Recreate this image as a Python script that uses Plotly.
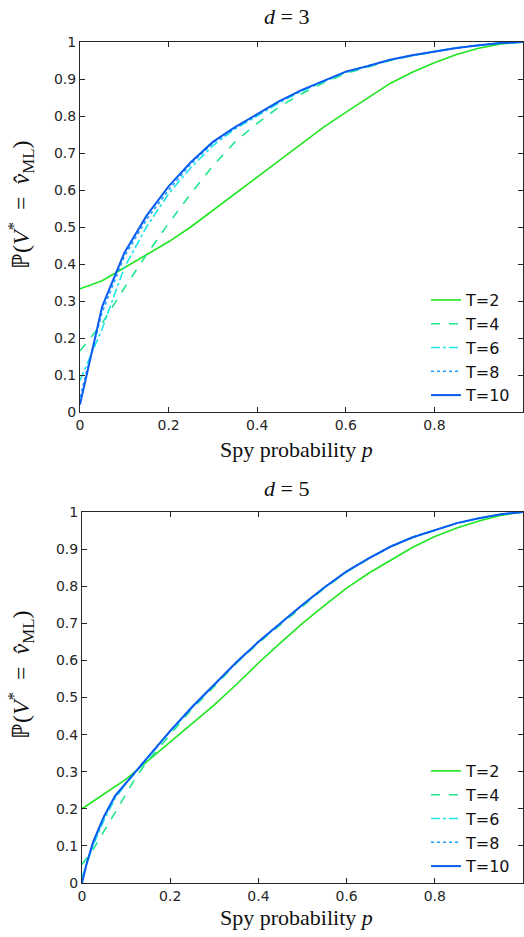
import plotly.graph_objects as go

# ---------------- data ----------------
p_top = [0, 0.05, 0.1, 0.15, 0.2, 0.25, 0.3, 0.35, 0.4, 0.45, 0.5,
         0.55, 0.6, 0.65, 0.7, 0.75, 0.8, 0.85, 0.9, 0.95, 1.0]
d3_T2 = [0.333, 0.355, 0.39, 0.425, 0.46, 0.50, 0.545, 0.59, 0.635, 0.68, 0.726,
         0.77, 0.81, 0.85, 0.888, 0.918, 0.944, 0.966, 0.983, 0.995, 1.0]
d3_T4 = [0.165, 0.24, 0.335, 0.425, 0.51, 0.59, 0.665, 0.73, 0.78, 0.825, 0.86,
         0.89, 0.915, 0.933, 0.95, 0.963, 0.974, 0.984, 0.991, 0.997, 1.0]
d3_T6 = [0.085, 0.225, 0.39, 0.50, 0.59, 0.66, 0.72, 0.765, 0.80, 0.836, 0.867,
         0.893, 0.918, 0.934, 0.951, 0.963, 0.975, 0.984, 0.991, 0.997, 1.0]
d3_T8 = [0.04, 0.27, 0.42, 0.52, 0.60, 0.67, 0.727, 0.768, 0.803, 0.839, 0.869,
         0.894, 0.919, 0.935, 0.952, 0.964, 0.975, 0.984, 0.991, 0.997, 1.0]
d3_T10 = [0.02, 0.285, 0.43, 0.53, 0.61, 0.675, 0.73, 0.77, 0.805, 0.84, 0.87,
          0.895, 0.92, 0.935, 0.952, 0.964, 0.975, 0.984, 0.991, 0.997, 1.0]

p_bot = [0, 0.01, 0.025, 0.05, 0.075, 0.1, 0.125, 0.15, 0.2, 0.25, 0.3, 0.35, 0.4,
         0.45, 0.5, 0.55, 0.6, 0.65, 0.7, 0.75, 0.8, 0.85, 0.9, 0.95, 1.0]
d5_T2 = [0.2, 0.208, 0.22, 0.24, 0.26, 0.28, 0.305, 0.33, 0.378, 0.43, 0.48, 0.535, 0.593,
         0.647, 0.70, 0.748, 0.795, 0.835, 0.87, 0.905, 0.934, 0.957, 0.976, 0.991, 1.0]
d5_T4 = [0.05, 0.066, 0.09, 0.14, 0.19, 0.24, 0.29, 0.33, 0.40, 0.47, 0.53, 0.592, 0.647,
         0.697, 0.747, 0.795, 0.838, 0.874, 0.906, 0.931, 0.951, 0.969, 0.983, 0.994, 1.0]
d5_T6 = [0.015, 0.05, 0.10, 0.17, 0.228, 0.268, 0.303, 0.338, 0.408, 0.473, 0.533, 0.594, 0.649,
         0.699, 0.749, 0.796, 0.839, 0.875, 0.907, 0.932, 0.952, 0.97, 0.983, 0.994, 1.0]
d5_T8 = [0.005, 0.05, 0.105, 0.178, 0.233, 0.27, 0.305, 0.34, 0.41, 0.475, 0.535, 0.595, 0.65,
         0.70, 0.75, 0.797, 0.84, 0.875, 0.907, 0.932, 0.952, 0.97, 0.983, 0.994, 1.0]
d5_T10 = [0.0, 0.05, 0.11, 0.18, 0.235, 0.27, 0.305, 0.34, 0.41, 0.475, 0.535, 0.595, 0.65,
          0.70, 0.75, 0.797, 0.84, 0.875, 0.907, 0.932, 0.952, 0.97, 0.983, 0.994, 1.0]

series_names = ["T=2", "T=4", "T=6", "T=8", "T=10"]
colors = ["#1ee61e", "#1ee68c", "#1ee6e6", "#1a9cff", "#0a5cf0"]
dashes = ["solid", "dash", "dashdot", "dot", "solid"]
widths = [1.6, 1.6, 1.6, 1.6, 2.0]

x_ticks = [0, 0.2, 0.4, 0.6, 0.8]
x_ticktext = ["0", "0.2", "0.4", "0.6", "0.8"]
y_ticks = [0, 0.1, 0.2, 0.3, 0.4, 0.5, 0.6, 0.7, 0.8, 0.9, 1.0]
y_ticktext = ["0", "0.1", "0.2", "0.3", "0.4", "0.5", "0.6", "0.7", "0.8", "0.9", "1"]

# ---------------- figure ----------------
W, H = 524, 937
fig = go.Figure()

top_sets = [d3_T2, d3_T4, d3_T6, d3_T8, d3_T10]
bot_sets = [d5_T2, d5_T4, d5_T6, d5_T8, d5_T10]

for name, ys, c, d, w in zip(series_names, top_sets, colors, dashes, widths):
    fig.add_trace(go.Scatter(x=p_top, y=ys, mode="lines", name=name,
                             line=dict(color=c, dash=d, width=w),
                             xaxis="x", yaxis="y", legend="legend"))
for name, ys, c, d, w in zip(series_names, bot_sets, colors, dashes, widths):
    fig.add_trace(go.Scatter(x=p_bot, y=ys, mode="lines", name=name,
                             line=dict(color=c, dash=d, width=w),
                             xaxis="x2", yaxis="y2", legend="legend2"))

axcol = "#262626"
tickfont = dict(family="DejaVu Sans, sans-serif", size=14, color=axcol)
common_x = dict(range=[0, 1], tickvals=x_ticks, ticktext=x_ticktext, ticks="inside",
                ticklen=5, tickcolor=axcol, showline=True, linecolor=axcol, linewidth=1,
                mirror="ticks", showgrid=False, zeroline=False, tickfont=tickfont,
                automargin=False)
common_y = dict(range=[0, 1], tickvals=y_ticks, ticktext=y_ticktext, ticks="inside",
                ticklen=5, tickcolor=axcol, showline=True, linecolor=axcol, linewidth=1,
                mirror="ticks", showgrid=False, zeroline=False, tickfont=tickfont,
                automargin=False)

def py(pix):
    return (H - pix) / H

def px(pix):
    return pix / W

legfont = dict(family="DejaVu Sans, sans-serif", size=16, color="#111")
fig.update_layout(
    width=W, height=H,
    margin=dict(l=0, r=0, t=0, b=0, autoexpand=False),
    paper_bgcolor="white", plot_bgcolor="white",
    xaxis=dict(domain=[px(80), px(523)], anchor="y", **common_x),
    yaxis=dict(domain=[py(412), py(42)], anchor="x", **common_y),
    xaxis2=dict(domain=[px(82), px(523)], anchor="y2", **common_x),
    yaxis2=dict(domain=[py(883), py(512)], anchor="x2", **common_y),
    legend=dict(x=px(426), y=py(283), xanchor="left", yanchor="top",
                bgcolor="rgba(255,255,255,0)", borderwidth=0, font=legfont,
                tracegroupgap=0, itemwidth=30),
    legend2=dict(x=px(426), y=py(754), xanchor="left", yanchor="top",
                 bgcolor="rgba(255,255,255,0)", borderwidth=0, font=legfont,
                 tracegroupgap=0, itemwidth=30),
    showlegend=True,
)

serif = dict(family="Liberation Serif, Times New Roman, serif", size=22, color="#111")
ylabfont = dict(family="Liberation Serif, Times New Roman, serif", size=24, color="#111")
ylab = "ℙ(<i>V</i><sup>*</sup>&nbsp;&nbsp;=&nbsp;&nbsp;<i>v̂</i><sub>ML</sub>)"
annotations = [
    dict(text="<i>d</i> = 3", x=px(286), y=py(16), xref="paper", yref="paper",
         showarrow=False, font=serif, xanchor="center", yanchor="middle"),
    dict(text="<i>d</i> = 5", x=px(286), y=py(488), xref="paper", yref="paper",
         showarrow=False, font=serif, xanchor="center", yanchor="middle"),
    dict(text="Spy probability <i>p</i>", x=px(296), y=py(449), xref="paper", yref="paper",
         showarrow=False, font=serif, xanchor="center", yanchor="middle"),
    dict(text="Spy probability <i>p</i>", x=px(296), y=py(917), xref="paper", yref="paper",
         showarrow=False, font=serif, xanchor="center", yanchor="middle"),
    dict(text=ylab, x=px(21), y=py(205), xref="paper", yref="paper", textangle=-90,
         showarrow=False, font=ylabfont, xanchor="center", yanchor="middle"),
    dict(text=ylab, x=px(21), y=py(675), xref="paper", yref="paper", textangle=-90,
         showarrow=False, font=ylabfont, xanchor="center", yanchor="middle"),
]
fig.update_layout(annotations=annotations)

# remove the browser's default 8px body margin so the figure sits at the page corner
fig.write_html("out.html", config={"displayModeBar": False},
               post_script="document.body.style.margin='0px';")
